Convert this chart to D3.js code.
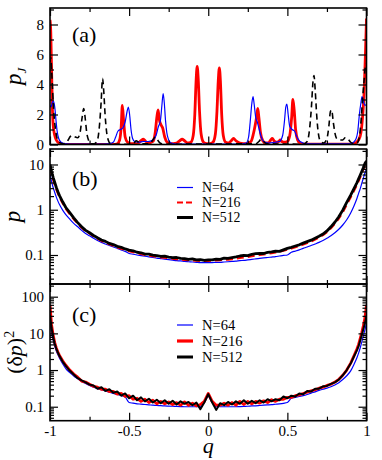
<!DOCTYPE html>
<html>
<head>
<meta charset="utf-8">
<script src="https://cdn.jsdelivr.net/npm/d3@7"></script>
<style>
body { margin: 0; background: #fff; }
svg { display: block; }
svg text { font-family: "Liberation Serif", "Times New Roman", Times, "DejaVu Serif", "Noto Serif", serif !important; fill: #000; }
</style>
</head>
<body>
<svg width="382" height="460"></svg>
<script>
"use strict";

// Data. Panel (a): p_J against q, as [q, p_J] pairs.

var aBlueN64 = [
  [-1, 2.6], [-0.995, 2.5], [-0.99, 2.6], [-0.985, 2.8], [-0.978, 2.9], [-0.97, 2.5], [-0.962, 1.6],
  [-0.955, 0.9], [-0.945, 0.4], [-0.93, 0.15], [-0.9, 0.05], [-0.85, 0.02], [-0.7, 0.02], [-0.63, 0.05],
  [-0.6, 0.15], [-0.585, 0.5], [-0.57, 0.9], [-0.555, 1.0], [-0.54, 1.1], [-0.525, 1.5], [-0.513, 2.2],
  [-0.505, 2.5], [-0.497, 2.0], [-0.488, 1.0], [-0.478, 0.4], [-0.465, 0.2], [-0.44, 0.15], [-0.41, 0.2],
  [-0.38, 0.2], [-0.35, 0.3], [-0.33, 0.6], [-0.315, 1.2], [-0.302, 1.6], [-0.293, 2.6], [-0.285, 3.4],
  [-0.278, 2.8], [-0.27, 1.6], [-0.262, 0.8], [-0.25, 0.3], [-0.235, 0.1], [-0.2, 0.03], [0.2, 0.03],
  [0.24, 0.1], [0.255, 0.5], [0.265, 1.5], [0.275, 2.7], [0.283, 3.2], [0.29, 2.7], [0.3, 1.8],
  [0.31, 1.5], [0.322, 1.0], [0.335, 0.5], [0.35, 0.2], [0.38, 0.1], [0.42, 0.15], [0.45, 0.2],
  [0.47, 0.6], [0.482, 1.6], [0.49, 2.5], [0.497, 2.7], [0.505, 2.0], [0.515, 1.2], [0.53, 1.0],
  [0.545, 0.9], [0.56, 0.5], [0.58, 0.2], [0.62, 0.05], [0.9, 0.05], [0.93, 0.3], [0.945, 0.9],
  [0.955, 2.0], [0.965, 2.8], [0.972, 3.2], [0.98, 2.9], [0.99, 2.6], [1, 2.7]
];

var aRedN216 = [
  [-1, 8.3], [-0.995, 7.5], [-0.99, 5.0], [-0.985, 2.5], [-0.98, 1.3], [-0.97, 0.6], [-0.96, 0.3],
  [-0.95, 0.15], [-0.93, 0.05], [-0.9, 0.01], [-0.6, 0.01], [-0.575, 0.05], [-0.56, 0.3], [-0.55, 1.2],
  [-0.543, 2.6], [-0.535, 1.6], [-0.525, 0.5], [-0.51, 0.15], [-0.49, 0.05], [-0.45, 0.05], [-0.425, 0.25],
  [-0.41, 0.35], [-0.395, 0.2], [-0.375, 0.1], [-0.35, 0.2], [-0.335, 0.8], [-0.325, 1.8], [-0.317, 2.3],
  [-0.308, 1.6], [-0.298, 1.3], [-0.288, 1.1], [-0.275, 0.5], [-0.26, 0.15], [-0.24, 0.05], [-0.2, 0.1],
  [-0.18, 0.25], [-0.165, 0.35], [-0.15, 0.25], [-0.13, 0.1], [-0.11, 0.15], [-0.095, 0.6], [-0.085, 2.0],
  [-0.077, 4.2], [-0.07, 5.2], [-0.063, 4.3], [-0.055, 2.2], [-0.045, 0.7], [-0.03, 0.15], [-0.01, 0.05],
  [0.01, 0.05], [0.03, 0.15], [0.045, 0.7], [0.055, 2.2], [0.063, 4.2], [0.07, 5.1], [0.077, 4.2],
  [0.085, 2.0], [0.095, 0.6], [0.11, 0.15], [0.13, 0.1], [0.145, 0.25], [0.16, 0.4], [0.175, 0.25],
  [0.2, 0.1], [0.24, 0.05], [0.27, 0.2], [0.285, 0.7], [0.295, 1.2], [0.305, 1.8], [0.313, 2.4],
  [0.32, 1.8], [0.33, 0.8], [0.345, 0.25], [0.36, 0.1], [0.38, 0.1], [0.395, 0.3], [0.405, 0.4],
  [0.415, 0.25], [0.43, 0.15], [0.445, 0.2], [0.455, 0.3], [0.465, 0.2], [0.48, 0.15], [0.5, 0.2],
  [0.515, 0.6], [0.527, 1.8], [0.535, 3.0], [0.543, 2.3], [0.552, 1.0], [0.565, 0.3], [0.58, 0.08],
  [0.62, 0.02], [0.9, 0.02], [0.93, 0.1], [0.95, 0.3], [0.965, 0.8], [0.975, 1.8], [0.985, 3.5],
  [0.993, 6.0], [1, 8.4]
];

var aBlackN512 = [
  [-1, 5.5], [-0.995, 5.8], [-0.99, 5.0], [-0.983, 3.5], [-0.975, 2.0], [-0.965, 1.0], [-0.955, 0.4],
  [-0.94, 0.15], [-0.92, 0.05], [-0.9, 0.1], [-0.885, 0.3], [-0.87, 0.55], [-0.855, 0.6], [-0.84, 0.5],
  [-0.825, 0.45], [-0.81, 0.8], [-0.797, 1.8], [-0.787, 2.4], [-0.778, 1.8], [-0.768, 0.8], [-0.755, 0.25],
  [-0.74, 0.05], [-0.72, 0.05], [-0.7, 0.3], [-0.688, 1.2], [-0.677, 2.8], [-0.668, 4.4], [-0.66, 3.5],
  [-0.652, 2.0], [-0.643, 0.9], [-0.632, 0.3], [-0.62, 0.08], [-0.6, 0.02], [-0.5, 0.02], [-0.47, 0.1],
  [-0.455, 0.25], [-0.44, 0.15], [-0.42, 0.05], [-0.37, 0.05], [-0.35, 0.3], [-0.335, 0.5], [-0.32, 0.3],
  [-0.305, 0.1], [-0.28, 0.02], [0.3, 0.05], [0.32, 0.2], [0.335, 0.35], [0.35, 0.2], [0.37, 0.05],
  [0.6, 0.02], [0.625, 0.2], [0.64, 1.0], [0.652, 2.5], [0.662, 4.2], [0.668, 4.6], [0.676, 3.6],
  [0.685, 2.0], [0.695, 0.8], [0.71, 0.2], [0.73, 0.1], [0.75, 0.4], [0.762, 1.2], [0.772, 2.2],
  [0.78, 2.3], [0.79, 1.5], [0.8, 0.8], [0.812, 0.4], [0.83, 0.3], [0.85, 0.3], [0.865, 0.45],
  [0.88, 0.4], [0.9, 0.15], [0.92, 0.05], [0.94, 0.1], [0.955, 0.5], [0.965, 1.5], [0.975, 3.0],
  [0.985, 4.3], [0.993, 5.2], [1, 5.4]
];

// Panels (b) and (c): common q grid.

var qGrid = [
  -1, -0.99, -0.98, -0.97, -0.96, -0.95, -0.94, -0.92, -0.9,
  -0.875, -0.85, -0.825, -0.8, -0.775, -0.75, -0.725, -0.7, -0.675, -0.65,
  -0.625, -0.6, -0.575, -0.55, -0.525, -0.5, -0.475, -0.45, -0.425, -0.4,
  -0.375, -0.35, -0.325, -0.3, -0.275, -0.25, -0.225, -0.2, -0.175, -0.15,
  -0.125, -0.1, -0.075, -0.05, -0.025, 0, 0.025, 0.05, 0.075, 0.1,
  0.125, 0.15, 0.175, 0.2, 0.225, 0.25, 0.275, 0.3, 0.325, 0.35,
  0.375, 0.4, 0.425, 0.45, 0.475, 0.5, 0.525, 0.55, 0.575, 0.6,
  0.625, 0.65, 0.675, 0.7, 0.725, 0.75, 0.775, 0.8, 0.825, 0.85, 0.875,
  0.9, 0.92, 0.94, 0.95, 0.96, 0.97, 0.98, 0.99, 1
];

// (b) p.
var bN64 = [
  6.0, 4.2, 3.1, 2.4, 1.9, 1.55, 1.3, 0.98, 0.78,
  0.62, 0.5, 0.42, 0.35, 0.3, 0.265, 0.235, 0.21, 0.19, 0.175,
  0.162, 0.15, 0.14, 0.13, 0.12, 0.108, 0.104, 0.1, 0.097, 0.094,
  0.091, 0.088, 0.085, 0.083, 0.081, 0.079, 0.077, 0.075, 0.074, 0.072,
  0.071, 0.07, 0.069, 0.068, 0.068, 0.068, 0.068, 0.069, 0.069, 0.07,
  0.071, 0.072, 0.073, 0.075, 0.076, 0.078, 0.08, 0.082, 0.084, 0.086,
  0.088, 0.09, 0.092, 0.095, 0.098, 0.1, 0.115, 0.122, 0.13, 0.14,
  0.15, 0.162, 0.175, 0.19, 0.21, 0.235, 0.265, 0.31, 0.37, 0.46, 0.6,
  0.85, 1.2, 1.8, 2.3, 2.9, 3.8, 5.0, 6.5, 8.0
];
var bN216 = [
  8.5, 6.2, 4.6, 3.6, 2.8, 2.3, 1.9, 1.4, 1.05,
  0.8, 0.62, 0.5, 0.4, 0.34, 0.3, 0.26, 0.23, 0.205, 0.19,
  0.172, 0.16, 0.148, 0.138, 0.13, 0.121, 0.116, 0.11, 0.105, 0.1,
  0.097, 0.094, 0.091, 0.089, 0.087, 0.085, 0.083, 0.081, 0.08, 0.078,
  0.077, 0.076, 0.075, 0.074, 0.074, 0.074, 0.075, 0.076, 0.077, 0.078,
  0.079, 0.081, 0.083, 0.086, 0.088, 0.091, 0.094, 0.097, 0.1, 0.103,
  0.107, 0.11, 0.114, 0.118, 0.124, 0.131, 0.139, 0.148, 0.158, 0.17,
  0.184, 0.2, 0.22, 0.245, 0.275, 0.32, 0.39, 0.49, 0.64, 0.88, 1.3,
  1.9, 2.6, 3.6, 4.3, 5.2, 6.4, 7.8, 9.5, 11
];
var bN512 = [
  10, 7.0, 5.2, 4.0, 3.1, 2.5, 2.05, 1.5, 1.12,
  0.86, 0.66, 0.52, 0.42, 0.35, 0.31, 0.27, 0.24, 0.215, 0.2,
  0.18, 0.17, 0.155, 0.148, 0.136, 0.128, 0.124, 0.115, 0.112, 0.105,
  0.104, 0.099, 0.097, 0.093, 0.094, 0.09, 0.087, 0.088, 0.084, 0.083,
  0.08, 0.082, 0.078, 0.079, 0.076, 0.078, 0.078, 0.081, 0.08, 0.085,
  0.084, 0.088, 0.091, 0.095, 0.098, 0.097, 0.103, 0.107, 0.109, 0.108,
  0.114, 0.117, 0.121, 0.12, 0.13, 0.14, 0.148, 0.158, 0.168, 0.183,
  0.198, 0.213, 0.235, 0.26, 0.29, 0.34, 0.42, 0.53, 0.7, 0.98, 1.45,
  2.1, 2.9, 4.0, 4.8, 5.8, 7.0, 8.5, 10.5, 12
];

// (c) (delta p)^2.
var cN64 = [
  19, 10, 6.6, 4.4, 3.3, 2.6, 2.1, 1.5, 1.1,
  0.85, 0.69, 0.58, 0.49, 0.43, 0.38, 0.34, 0.31, 0.29, 0.27,
  0.25, 0.23, 0.215, 0.2, 0.185, 0.13, 0.125, 0.12, 0.118, 0.115,
  0.113, 0.11, 0.108, 0.107, 0.105, 0.104, 0.103, 0.102, 0.101, 0.1,
  0.1, 0.1, 0.1, 0.1, 0.13, 0.19, 0.13, 0.1, 0.1, 0.1,
  0.1, 0.1, 0.1, 0.101, 0.102, 0.103, 0.105, 0.106, 0.108, 0.11,
  0.112, 0.114, 0.117, 0.12, 0.124, 0.13, 0.17, 0.18, 0.19, 0.2,
  0.215, 0.235, 0.255, 0.28, 0.3, 0.32, 0.35, 0.39, 0.45, 0.55, 0.7,
  0.95, 1.4, 2.2, 2.9, 4.0, 5.8, 8.5, 12.5, 19
];
var cN216 = [
  60, 17, 9, 5.6, 4.0, 3.1, 2.5, 1.8, 1.35,
  1.0, 0.78, 0.64, 0.5, 0.47, 0.41, 0.36, 0.34, 0.3, 0.3,
  0.26, 0.26, 0.22, 0.23, 0.19, 0.2, 0.16, 0.17, 0.14, 0.16,
  0.13, 0.15, 0.12, 0.14, 0.12, 0.135, 0.115, 0.13, 0.11, 0.135,
  0.11, 0.125, 0.105, 0.115, 0.14, 0.23, 0.14, 0.11, 0.11, 0.125,
  0.11, 0.13, 0.11, 0.14, 0.115, 0.14, 0.12, 0.14, 0.125, 0.145,
  0.13, 0.155, 0.14, 0.16, 0.16, 0.18, 0.18, 0.2, 0.21, 0.23,
  0.25, 0.27, 0.29, 0.32, 0.34, 0.38, 0.41, 0.47, 0.56, 0.72, 1.0,
  1.55, 2.4, 3.8, 5.0, 7.2, 10.5, 16, 26, 60
];
var cN512 = [
  32, 14, 8, 5.2, 3.8, 3.0, 2.4, 1.7, 1.3,
  0.95, 0.76, 0.6, 0.52, 0.46, 0.4, 0.38, 0.31, 0.34, 0.27,
  0.3, 0.24, 0.26, 0.2, 0.23, 0.17, 0.2, 0.15, 0.18, 0.14,
  0.165, 0.13, 0.155, 0.125, 0.15, 0.12, 0.145, 0.115, 0.14, 0.12,
  0.135, 0.11, 0.13, 0.085, 0.13, 0.22, 0.13, 0.082, 0.125, 0.11,
  0.135, 0.115, 0.14, 0.12, 0.15, 0.12, 0.145, 0.125, 0.15, 0.13,
  0.16, 0.14, 0.16, 0.15, 0.19, 0.17, 0.2, 0.19, 0.23, 0.22,
  0.27, 0.26, 0.31, 0.31, 0.36, 0.37, 0.42, 0.46, 0.55, 0.72, 1.0,
  1.5, 2.3, 3.5, 4.5, 6.3, 9, 13, 19, 30
];

// Labels and ticks.

var LegendLabels = ["N=64", "N=216", "N=512"];
var XMajorTicks = [-1, -0.5, 0, 0.5, 1];
var XMinorTicks = [-0.75, -0.25, 0.25, 0.75];
var XTickLabels = ["-1", "-0.5", "0", "0.5", "1"];
var AMajorTicks = [0, 2, 4, 6, 8];
var AMinorTicks = [1, 3, 5, 7, 9];
var BMajorTicks = [0.1, 1, 10];
var CMajorTicks = [0.1, 1, 10, 100];

// SVG and scales.

var svg = d3.select("svg");

var Serif = "'Liberation Serif', 'Times New Roman', Times, 'DejaVu Serif', serif";

var XLeft = 50;
var XRight = 366.5;
var x = d3.scaleLinear().domain([-1, 1]).range([XLeft, XRight]);

var ATop = 8, ABottom = 144.5;
var BTop = 149, BBottom = 284;
var CTop = 284, CBottom = 420.7;

var yA = d3.scaleLinear().domain([0, 9.1]).range([ABottom, ATop]);
var yB = d3.scaleLog().domain([Math.pow(10, -1.641), Math.pow(10, 1.3425)]).range([BBottom, BTop]);
var yC = d3.scaleLog().domain([Math.pow(10, -1.381), Math.pow(10, 2.346)]).range([CBottom, CTop]);

var Blue = "#0000ff";
var Red = "#ff0000";
var Black = "#000000";

var MajorLen = 8;
var MinorLen = 4;
var FontSize = 15;

var StyleAxis = function(g){
    g.attr("font-family", Serif);
    g.select(".domain").remove();
    g.selectAll(".tick line").attr("stroke", Black).attr("stroke-width", 1.2);
    g.selectAll(".tick text")
        .attr("font-size", FontSize)
        .attr("fill", Black);
}

// Frame, inward ticks on all four sides, labels on the left (and bottom for c).

var DrawFrame = function(y, top, bottom, yMajor, yMinor, yFormat, xLabels){
    var g = svg.append("g");

    // x ticks, bottom and top.
    g.append("g")
        .attr("transform", "translate(0," + bottom + ")")
        .call(d3.axisBottom(x).tickValues(XMajorTicks).tickSize(-MajorLen).tickPadding(5)
            .tickFormat(function(d, i){ return xLabels ? XTickLabels[i] : ""; }))
        .call(StyleAxis);
    g.append("g")
        .attr("transform", "translate(0," + bottom + ")")
        .call(d3.axisBottom(x).tickValues(XMinorTicks).tickSize(-MinorLen).tickFormat(""))
        .call(StyleAxis);
    g.append("g")
        .attr("transform", "translate(0," + top + ")")
        .call(d3.axisTop(x).tickValues(XMajorTicks).tickSize(-MajorLen).tickFormat(""))
        .call(StyleAxis);
    g.append("g")
        .attr("transform", "translate(0," + top + ")")
        .call(d3.axisTop(x).tickValues(XMinorTicks).tickSize(-MinorLen).tickFormat(""))
        .call(StyleAxis);

    // y ticks, left and right.
    g.append("g")
        .attr("transform", "translate(" + XLeft + ",0)")
        .call(d3.axisLeft(y).tickValues(yMajor).tickSize(-MajorLen).tickPadding(6).tickFormat(yFormat))
        .call(StyleAxis);
    g.append("g")
        .attr("transform", "translate(" + XLeft + ",0)")
        .call(d3.axisLeft(y).tickValues(yMinor).tickSize(-MinorLen).tickFormat(""))
        .call(StyleAxis);
    g.append("g")
        .attr("transform", "translate(" + XRight + ",0)")
        .call(d3.axisRight(y).tickValues(yMajor).tickSize(-MajorLen).tickFormat(""))
        .call(StyleAxis);
    g.append("g")
        .attr("transform", "translate(" + XRight + ",0)")
        .call(d3.axisRight(y).tickValues(yMinor).tickSize(-MinorLen).tickFormat(""))
        .call(StyleAxis);

    g.append("rect")
        .attr("x", XLeft).attr("y", top)
        .attr("width", XRight - XLeft).attr("height", bottom - top)
        .attr("fill", "none").attr("stroke", Black).attr("stroke-width", 1.6);
}

// Minor log ticks: every tick of the log scale that is not a power of ten.
var LogMinor = function(y){
    return y.ticks().filter(function(d){
        var e = Math.log10(d);
        return Math.abs(e - Math.round(e)) > 1e-6;
    });
}

var LogFormat = function(d){ return d3.format("~g")(d); }

// Series.

var ClipId = 0;
var DrawSeries = function(data, y, top, bottom, color, width, dash, curve){
    var id = "clip" + (ClipId++);
    svg.append("clipPath").attr("id", id)
        .append("rect")
            .attr("x", XLeft).attr("y", top)
            .attr("width", XRight - XLeft).attr("height", bottom - top);

    var line = d3.line()
        .x(function(d){ return x(d[0]); })
        .y(function(d){ return y(d[1]); })
        .curve(curve);

    svg.append("path")
        .datum(data)
        .attr("clip-path", "url(#" + id + ")")
        .attr("d", line)
        .attr("fill", "none")
        .attr("stroke", color)
        .attr("stroke-width", width)
        .attr("stroke-dasharray", dash)
        .attr("stroke-linejoin", "round");
}

var OnGrid = function(values){
    return qGrid.map(function(q, i){ return [q, values[i]]; });
}

// Legend: short line and its label.
var DrawLegend = function(rows, size){
    rows.forEach(function(r, i){
        svg.append("line")
            .attr("x1", 177).attr("x2", 193)
            .attr("y1", r.y).attr("y2", r.y)
            .attr("stroke", r.color)
            .attr("stroke-width", r.width)
            .attr("stroke-dasharray", r.dash);
        svg.append("text")
            .attr("x", 202).attr("y", r.y + 4.5)
            .attr("font-family", Serif)
            .attr("font-size", size)
            .text(LegendLabels[i]);
    });
}

// Panel (a).

DrawSeries(aRedN216, yA, ATop, ABottom, Red, 2.8, null, d3.curveMonotoneX);
DrawSeries(aBlueN64, yA, ATop, ABottom, Blue, 1.2, null, d3.curveMonotoneX);
DrawSeries(aBlackN512, yA, ATop, ABottom, Black, 1.6, "6,4", d3.curveMonotoneX);
DrawFrame(yA, ATop, ABottom, AMajorTicks, AMinorTicks, function(d){ return d; }, false);

// Panel (b).

DrawSeries(OnGrid(bN64), yB, BTop, BBottom, Blue, 1.2, null, d3.curveMonotoneX);
DrawSeries(OnGrid(bN216), yB, BTop, BBottom, Red, 2.2, "7,4", d3.curveLinear);
DrawSeries(OnGrid(bN512), yB, BTop, BBottom, Black, 2.8, null, d3.curveLinear);
DrawFrame(yB, BTop, BBottom, BMajorTicks, LogMinor(yB), LogFormat, false);
DrawLegend([
    {y: 187.5, color: Blue, width: 1.2, dash: null},
    {y: 202.5, color: Red, width: 2.2, dash: "6,3"},
    {y: 217.5, color: Black, width: 3, dash: null}
], 13.8);

// Panel (c).

DrawSeries(OnGrid(cN64), yC, CTop, CBottom, Blue, 1.2, null, d3.curveMonotoneX);
DrawSeries(OnGrid(cN216), yC, CTop, CBottom, Red, 2.8, null, d3.curveLinear);
DrawSeries(OnGrid(cN512), yC, CTop, CBottom, Black, 2, null, d3.curveLinear);
DrawFrame(yC, CTop, CBottom, CMajorTicks, LogMinor(yC), LogFormat, true);
DrawLegend([
    {y: 325, color: Blue, width: 1.2, dash: null},
    {y: 341, color: Red, width: 3.2, dash: null},
    {y: 357, color: Black, width: 3, dash: null}
], 14.5);

// Panel letters.

[["(a)", 41.5], ["(b)", 185.5], ["(c)", 321.5]].forEach(function(t){
    svg.append("text")
        .attr("x", 72).attr("y", t[1])
        .attr("font-family", Serif)
        .attr("font-size", 22)
        .text(t[0]);
});

// Axis titles.

var yTitleA = svg.append("text")
    .attr("transform", "translate(21," + ((ATop + ABottom) / 2) + ") rotate(-90)")
    .attr("text-anchor", "middle")
    .attr("font-family", Serif)
    .attr("font-size", 23);
yTitleA.append("tspan").attr("font-style", "italic").text("p");
yTitleA.append("tspan").attr("font-style", "italic").attr("font-size", 13).attr("dy", 5).text("J");

svg.append("text")
    .attr("transform", "translate(20," + ((BTop + BBottom) / 2) + ") rotate(-90)")
    .attr("text-anchor", "middle")
    .attr("font-family", Serif)
    .attr("font-size", 23)
    .attr("font-style", "italic")
    .text("p");

var yTitleC = svg.append("text")
    .attr("transform", "translate(22," + ((CTop + CBottom) / 2) + ") rotate(-90)")
    .attr("text-anchor", "middle")
    .attr("font-family", Serif)
    .attr("font-size", 22);
yTitleC.append("tspan").text("(\u03b4");
yTitleC.append("tspan").attr("font-style", "italic").text("p");
yTitleC.append("tspan").text(")");
yTitleC.append("tspan").attr("font-size", 14).attr("dy", -8).text("2");

svg.append("text")
    .attr("x", x(0)).attr("y", 453)
    .attr("text-anchor", "middle")
    .attr("font-family", Serif)
    .attr("font-size", 22)
    .attr("font-style", "italic")
    .text("q");
</script>
</body>
</html>
